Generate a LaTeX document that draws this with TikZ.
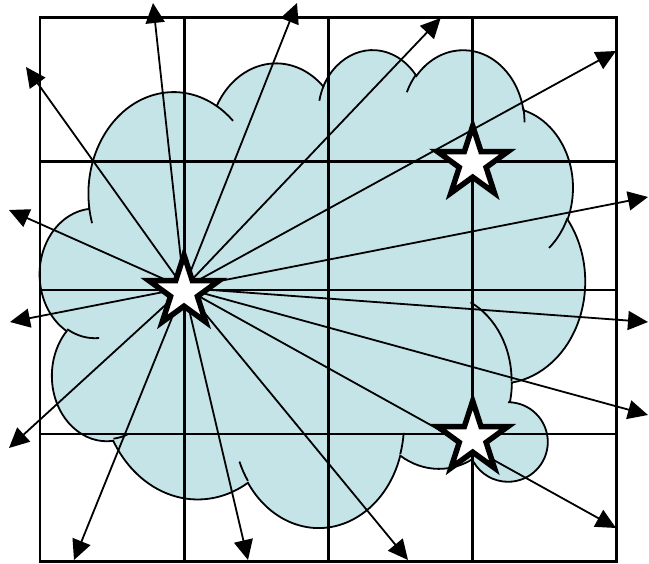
\documentclass[tikz,border=0pt]{standalone}
\usetikzlibrary{arrows.meta,shapes.geometric}
\definecolor{cloudfill}{HTML}{C5E4E8}
\begin{document}
\begin{tikzpicture}[x=1pt,y=-1pt,
  gridline/.style={line width=2.6pt},
  ray/.style={line width=1.8pt,-{Triangle[length=20pt,width=19pt]}},
  cloudline/.style={line width=1.8pt},
  starnode/.style={star,star points=5,star point ratio=2.618,minimum size=74pt,
    inner sep=0pt,draw,line width=5.5pt,fill=white}]
\useasboundingbox (0,0) rectangle (649,564);
% cloud
\filldraw[cloudline,fill=cloudfill] (89.20,207.44)
 arc[start angle=172.25, end angle=300.36, x radius=85.19, y radius=101.64]
 arc[start angle=-152.02, end angle=-45.43, x radius=67.28, y radius=80.37]
 arc[start angle=-153.48, end angle=-37.33, x radius=55.07, y radius=65.75]
 arc[start angle=-139.72, end angle=-10.22, x radius=61.27, y radius=72.94]
 arc[start angle=-74.77, end angle=23.21, x radius=67.28, y radius=80.44]
 arc[start angle=-37.54, end angle=81.86, x radius=85.47, y radius=101.97]
 arc[start angle=0.46, end angle=121.98, x radius=72.98, y radius=87.01]
 arc[start angle=16.84, end angle=146.23, x radius=85.18, y radius=101.92]
 arc[start angle=58.99, end angle=150.19, x radius=97.39, y radius=116.61]
 arc[start angle=-276.69, end angle=-136.89, x radius=55.00, y radius=65.45]
 arc[start angle=-239.64, end angle=-95.89, x radius=54.82, y radius=65.75]
 -- cycle;
\draw[cloudline]
 (99.21,338.02) arc[start angle=85.55, end angle=120.36, x radius=54.82, y radius=65.75]
 (127.40,434.49) arc[start angle=68.24, end angle=83.31, x radius=55.00, y radius=65.45]
 (247.88,480.85) arc[start angle=146.23, end angle=158.47, x radius=85.18, y radius=101.92]
 (403.67,432.85) arc[start angle=4.74, end angle=16.84, x radius=85.18, y radius=101.92]
 (470.56,302.38) arc[start angle=-64.02, end angle=0.46, x radius=72.98, y radius=87.01]
 (567.31,218.32) arc[start angle=23.21, end angle=49.63, x radius=67.28, y radius=80.44]
 (523.49,108.51) arc[start angle=-10.22, end angle=0.82, x radius=61.27, y radius=72.94]
 (406.84,92.21) arc[start angle=-156.29, end angle=-139.72, x radius=61.27, y radius=72.94]
 (319.33,100.70) arc[start angle=-167.72, end angle=-153.48, x radius=55.07, y radius=65.75]
 (216.62,105.92) arc[start angle=-59.64, end angle=-45.75, x radius=85.19, y radius=101.64]
 (92.07,223.13) arc[start angle=163.19, end angle=172.25, x radius=85.19, y radius=101.64];
% small bubble
\fill[cloudfill] (508,442) circle[radius=39.8];
\draw[cloudline] (508,402.2) arc[start angle=270, end angle=510, radius=39.8];
% grid
\draw[gridline] (40,17.4) rectangle (616.7,561.6);
\foreach \gx in {184.3,328.5,472.7} \draw[gridline] (\gx,17.4) -- (\gx,561.6);
\foreach \gy in {161.6,290,434} \draw[gridline] (40,\gy) -- (616.7,\gy);
% rays
\coordinate (o) at (184,288);
\coordinate (t1) at (153,3);
\coordinate (t2) at (297,3);
\coordinate (t3) at (440.7,18);
\coordinate (t4) at (616,51);
\coordinate (t5) at (648,197);
\coordinate (t6) at (648,322);
\coordinate (t7) at (648,415);
\coordinate (t8) at (616,528);
\coordinate (t9) at (408,560);
\coordinate (t10) at (248,560);
\coordinate (t11) at (74,560);
\coordinate (t12) at (9,448);
\coordinate (t13) at (10,322);
\coordinate (t14) at (9,210);
\coordinate (t15) at (26,67);
\foreach \i in {1,...,15} \draw[ray] (o) -- (t\i);
% stars
\node[starnode] (s1) at (184,292) {};
\node[starnode] (s2) at (472.7,163) {};
\node[starnode] (s3) at (472.7,438) {};
\end{tikzpicture}
\end{document}
